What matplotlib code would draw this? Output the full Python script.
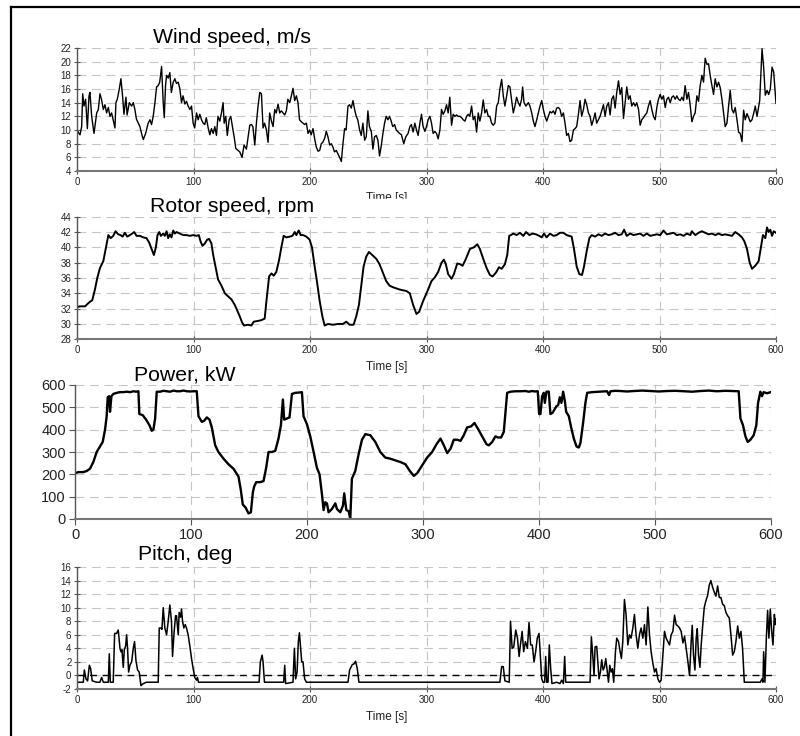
import matplotlib
matplotlib.use("Agg")
import matplotlib.pyplot as plt
from matplotlib.lines import Line2D
from matplotlib.patches import Rectangle

plt.rcParams['font.family'] = ['Liberation Sans', 'DejaVu Sans']
plt.rcParams['axes.unicode_minus'] = False

# ── Data ──────────────────────────────────────────────────────────────────────
wind_t = [0, 1.3, 2.6, 4.0, 4.9, 6.0, 7.4, 8.9, 10.3, 11.1, 12.6, 14.6, 16.9, 18.3, 19.7, 21.0,
          22.6, 24.0, 25.4, 26.9, 28.3, 29.7, 31.0, 32.6, 33.4, 34.6, 36.3, 37.7, 39.1, 40.3,
          42.0, 43.0, 44.9, 46.9, 48.3, 49.7, 51.0, 52.6, 54.0, 55.7, 56.9, 58.9, 61.1, 62.6,
          64.0, 65.4, 66.9, 68.3, 69.7, 71.0, 72.6, 74.0, 74.9, 76.0, 76.9, 78.3, 79.7, 81.0,
          82.6, 84.0, 85.4, 86.9, 88.3, 89.7, 91.0, 92.6, 94.0, 95.4, 96.9, 98.3, 99.7, 101.0,
          102.6, 104.0, 105.4, 106.9, 108.3, 109.7, 111.0, 112.6, 114.0, 115.4, 116.9, 118.3,
          119.7, 121.0, 122.6, 124.0, 125.4, 126.3, 127.7, 129.0, 130.6, 132.0, 133.4, 134.9,
          136.3, 138.3, 139.7, 141.7, 143.4, 145.4, 146.9, 148.3, 149.7, 151.0, 152.6, 154.0,
          155.4, 156.9, 158.3, 159.7, 161.0, 162.6, 164.0, 165.4, 166.9, 168.3, 169.7, 171.0,
          172.6, 174.0, 175.4, 176.9, 178.3, 179.7, 181.0, 182.6, 184.0, 185.4, 186.9, 188.3,
          189.7, 191.0, 192.6, 194.0, 195.4, 196.9, 198.3, 199.7, 201.0, 202.6, 204.0, 205.4,
          206.9, 208.3, 209.7, 211.0, 212.6, 214.0, 215.4, 216.9, 218.3, 219.7, 221.0, 222.6,
          224.0, 225.4, 226.9, 228.3, 229.7, 231.0, 232.6, 234.0, 235.4, 236.9, 238.3, 239.7,
          241.0, 242.6, 244.0, 245.4, 246.9, 248.3, 249.7, 251.0, 252.6, 254.0, 255.4, 256.9,
          258.3, 259.7, 261.0, 262.6, 264.0, 265.4, 266.9, 268.3, 269.7, 271.0, 272.6, 274.0,
          276.9, 278.5, 280.5, 282.2, 284.2, 285.7, 287.0, 288.5, 290.0, 291.4, 292.8, 294.3,
          295.7, 297.1, 298.6, 300.0, 301.4, 302.9, 304.3, 305.7, 307.2, 308.6, 310.0, 311.5,
          312.9, 314.3, 315.8, 317.2, 318.6, 320.0, 321.5, 322.9, 324.4, 325.8, 327.2, 328.7,
          330.1, 331.5, 333.0, 334.4, 335.8, 337.2, 338.7, 340.1, 341.5, 343.0, 344.4, 345.8,
          347.3, 348.7, 350.1, 351.6, 353.0, 354.4, 355.9, 357.3, 358.7, 360.2, 361.6, 363.0,
          364.5, 365.9, 367.3, 368.8, 370.2, 371.6, 373.0, 374.5, 375.9, 377.3, 378.8, 380.2,
          381.6, 382.5, 383.7, 385.4, 387.4, 388.8, 390.3, 391.7, 393.1, 394.6, 396.0, 397.4,
          398.9, 400.3, 401.7, 403.2, 404.6, 406.0, 407.4, 408.9, 410.3, 411.7, 413.2, 414.6,
          416.0, 417.5, 418.9, 420.3, 421.8, 423.2, 424.6, 426.1, 427.5, 428.9, 430.4, 431.8,
          433.2, 434.7, 436.1, 437.5, 439.0, 440.4, 441.8, 443.3, 444.7, 446.1, 447.6, 449.0,
          450.4, 451.9, 453.3, 454.7, 456.2, 457.6, 459.0, 460.5, 461.9, 463.3, 464.8, 466.2,
          467.6, 469.1, 470.5, 471.9, 473.4, 474.8, 476.2, 477.7, 479.1, 480.5, 482.0, 483.4,
          484.8, 486.2, 487.7, 489.1, 490.5, 492.0, 493.4, 494.8, 496.3, 497.7, 499.1, 500.6,
          502.0, 503.4, 504.9, 506.3, 507.7, 509.2, 510.6, 512.0, 513.5, 514.9, 516.3, 517.8,
          519.2, 520.6, 522.0, 523.5, 524.9, 526.3, 527.8, 529.2, 530.6, 532.1, 533.5, 534.9,
          536.4, 537.8, 539.2, 540.7, 542.1, 543.5, 545.0, 546.4, 547.8, 549.3, 550.7, 552.1,
          553.6, 555.0, 556.4, 557.9, 559.3, 560.7, 562.2, 563.6, 565.0, 566.5, 567.9, 569.3,
          570.8, 572.2, 573.6, 575.1, 576.5, 577.9, 579.4, 580.8, 582.2, 583.7, 586.0, 588.0,
          589.4, 590.8, 592.3, 593.7, 595.1, 596.6, 598.0, 600.0]
wind = [10.0, 9.6, 9.3, 10.5, 15.3, 13.5, 14.5, 10.2, 15.0, 15.5, 12.0, 9.5, 12.5, 13.0, 15.3, 14.5,
        13.0, 13.7, 12.5, 13.3, 12.0, 12.5, 11.5, 10.3, 14.0, 14.5, 16.0, 17.5, 15.0, 12.3,
        14.8, 12.2, 14.0, 13.5, 14.0, 13.0, 11.6, 11.0, 10.5, 9.3, 8.6, 9.5, 11.0, 11.5,
        10.8, 12.0, 14.0, 16.3, 16.5, 17.0, 19.3, 14.0, 11.8, 16.5, 18.0, 17.6, 18.4, 15.5,
        17.0, 17.5, 16.8, 17.0, 16.0, 14.0, 15.0, 13.8, 14.2, 13.5, 13.0, 13.5, 11.0, 10.3,
        12.5, 11.5, 12.3, 11.5, 11.0, 10.8, 11.8, 10.3, 9.3, 10.2, 9.5, 10.5,
        9.2, 12.0, 11.3, 12.5, 14.0, 11.0, 12.0, 9.2, 11.5, 12.0, 10.5, 9.0,
        7.3, 7.0, 6.8, 6.0, 7.8, 7.2, 9.0, 10.7, 10.8, 10.5, 7.8, 11.0,
        13.5, 15.5, 15.3, 10.3, 11.0, 10.0, 8.2, 12.5, 11.3, 10.5, 13.0, 12.5,
        13.8, 12.5, 12.8, 12.5, 12.2, 12.8, 14.5, 14.0, 15.0, 16.1, 14.3, 15.0,
        14.0, 11.5, 11.2, 11.0, 10.8, 11.0, 9.5, 10.0, 9.3, 10.2, 8.7, 7.5,
        6.9, 7.0, 8.0, 8.2, 8.8, 9.8, 9.0, 7.8, 8.0, 7.5, 6.8, 7.0,
        6.5, 6.0, 5.4, 8.0, 10.2, 10.0, 13.5, 13.7, 13.2, 14.3, 13.0, 12.0,
        11.5, 10.0, 9.2, 11.0, 8.5, 9.0, 12.8, 10.5, 9.8, 7.2, 9.0, 9.2,
        8.5, 6.2, 7.5, 9.5, 11.0, 12.0, 11.5, 12.0, 11.3, 10.5, 10.8, 10.0,
        9.5, 9.3, 8.0, 9.0, 9.5, 10.5, 10.8, 9.7, 11.0, 10.0, 9.2, 11.0,
        12.3, 10.5, 9.8, 10.5, 11.5, 12.0, 11.0, 9.5, 9.8, 9.5, 8.7, 10.0,
        13.0, 12.3, 12.8, 13.7, 12.5, 14.8, 10.7, 12.3, 12.0, 12.2, 12.0, 12.0,
        11.8, 11.5, 11.3, 12.0, 12.3, 12.0, 13.5, 11.5, 12.0, 9.7, 12.5, 11.3,
        12.5, 14.4, 12.5, 13.0, 12.0, 12.0, 11.0, 10.7, 11.0, 13.5, 14.0, 16.0,
        17.4, 15.0, 13.5, 15.0, 16.5, 16.3, 14.5, 12.5, 13.5, 14.8, 14.0, 13.5,
        14.5, 16.3, 14.0, 13.5, 14.0, 13.5, 12.5, 11.3, 10.5, 11.5, 12.5, 13.5,
        14.3, 13.0, 12.0, 11.3, 12.0, 12.7, 12.5, 12.8, 12.3, 13.2, 13.3, 13.0,
        12.0, 12.5, 11.0, 9.2, 9.5, 8.3, 8.5, 10.0, 10.2, 10.5, 12.3, 14.3,
        12.0, 13.0, 14.5, 13.7, 12.5, 12.0, 10.7, 11.5, 12.5, 11.0, 11.5, 12.0,
        12.8, 13.7, 12.0, 13.5, 14.0, 12.2, 14.5, 15.0, 13.2, 15.5, 17.2, 15.2,
        16.2, 11.7, 14.0, 16.3, 14.5, 15.0, 13.5, 14.0, 13.5, 14.0, 13.0, 10.7,
        11.5, 11.8, 12.2, 12.5, 13.5, 14.3, 13.0, 12.0, 11.5, 13.3, 14.5, 15.2,
        14.5, 15.0, 13.3, 14.5, 14.8, 14.0, 14.8, 15.0, 14.5, 15.0, 14.5, 14.3,
        14.8, 14.3, 16.5, 14.5, 15.5, 13.7, 11.2, 12.0, 12.5, 15.0, 14.2, 16.5,
        18.0, 17.0, 20.5, 19.6, 19.7, 18.0, 16.5, 15.2, 17.5, 16.3, 17.0, 16.2,
        14.5, 12.5, 10.5, 11.0, 13.5, 15.8, 13.0, 12.5, 13.3, 11.5, 9.7, 9.5,
        8.3, 12.9, 11.5, 12.4, 11.8, 11.2, 11.5, 12.4, 13.5, 12.0, 14.3, 21.9,
        19.2, 15.1, 15.8, 15.2, 16.0, 19.2, 18.5, 13.9]

rotor_t = [0, 2.6, 6.9, 8.9, 11.1, 13.1, 15.4, 17.4, 19.7, 22.6, 24.9, 26.9, 28.9, 31.1, 33.1,
           35.4, 37.4, 39.1, 41.1, 43.1, 45.4, 47.4, 49.1, 51.1, 54.0, 56.9, 59.7, 62.0, 64.0,
           66.0, 67.7, 69.1, 70.6, 72.0, 74.0, 75.4, 76.9, 78.3, 79.7, 81.1, 82.6, 84.0, 85.4,
           88.3, 91.1, 94.0, 96.9, 99.7, 102.6, 104.6, 106.0, 107.7, 109.7, 111.7, 113.4,
           115.4, 116.9, 118.9, 121.1, 124.0, 126.9, 129.7, 132.6, 135.4, 137.4, 139.7, 141.7,
           143.4, 146.9, 149.7, 151.7, 155.4, 158.3, 161.1, 162.6, 164.9, 166.9, 168.9, 171.1,
           173.4, 175.4, 177.4, 179.7, 182.6, 184.9, 186.9, 188.3, 190.3, 192.0, 194.0, 196.9,
           199.7, 201.7, 204.0, 206.0, 208.3, 210.6, 212.6, 215.4, 219.7, 224.0, 228.3, 231.1,
           234.0, 237.4, 239.7, 242.0, 244.0, 246.0, 248.3, 250.6, 253.4, 256.9, 259.7, 262.6,
           265.4, 268.3, 271.1, 276.9, 282.8, 285.7, 288.5, 291.4, 293.7, 297.1, 301.4, 304.3,
           307.2, 310.0, 312.9, 314.9, 316.6, 318.6, 321.5, 323.5, 326.4, 328.7, 331.0, 333.8,
           337.3, 340.7, 343.6, 345.8, 348.7, 351.6, 354.4, 356.7, 359.6, 362.2, 364.5, 367.3,
           369.3, 371.0, 372.5, 374.5, 377.4, 380.2, 383.1, 385.4, 388.3, 391.1, 394.0, 396.8,
           398.8, 400.9, 403.1, 406.0, 408.9, 411.7, 414.6, 417.5, 420.3, 424.6, 426.6, 428.9,
           431.2, 433.5, 435.2, 437.5, 439.8, 441.8, 444.7, 447.6, 450.4, 453.3, 456.2, 459.0,
           461.9, 464.8, 467.6, 469.6, 471.9, 474.8, 477.7, 480.5, 483.4, 486.2, 489.1, 492.0,
           494.8, 497.7, 500.6, 503.4, 506.3, 509.2, 512.0, 514.9, 517.8, 520.6, 523.5, 526.4,
           527.8, 530.7, 533.5, 536.4, 539.3, 542.1, 545.0, 547.9, 550.7, 553.6, 556.4, 559.3,
           562.2, 565.0, 567.9, 570.8, 572.8, 575.1, 577.4, 579.4, 582.2, 585.1, 587.1, 588.8,
           590.8, 592.3, 593.7, 595.1, 596.6, 598.0, 600.0]
rotor = [32.2, 32.3, 32.3, 32.6, 32.9, 33.1, 34.5, 36.0, 37.3, 38.2, 40.0, 41.6, 41.2, 41.5, 42.1,
         41.7, 41.6, 41.4, 41.9, 41.4, 41.6, 41.8, 42.0, 41.5, 41.5, 41.3, 41.2, 40.6, 39.8,
         39.0, 40.0, 41.6, 42.0, 41.5, 41.8, 41.5, 42.1, 41.2, 41.7, 41.3, 42.2, 41.8, 42.0,
         41.8, 41.6, 41.6, 41.5, 41.6, 41.5, 41.6, 40.8, 40.2, 40.5, 41.0, 41.1,
         40.5, 39.0, 37.5, 35.8, 35.0, 34.0, 33.6, 33.2, 32.5, 31.8, 31.0, 30.2,
         29.8, 29.9, 29.8, 30.3, 30.4, 30.5, 30.7, 33.0, 36.2, 36.6, 36.3, 36.8,
         38.3, 40.0, 41.5, 41.3, 41.4, 41.5, 42.0, 41.6, 42.2, 41.6, 41.6, 41.4,
         41.0, 40.0, 37.5, 35.5, 33.0, 31.0, 29.8, 30.0, 29.9, 30.0, 30.0, 30.3,
         29.9, 29.9, 31.0, 32.5, 35.0, 37.5, 38.8, 39.4, 39.0, 38.5, 37.8, 36.7,
         35.6, 35.0, 34.8, 34.5, 34.3, 34.0, 32.5, 31.3, 31.6, 33.0, 34.5, 35.6,
         36.1, 36.8, 38.0, 38.4, 37.8, 36.5, 35.9, 36.5, 37.9, 37.8, 37.6, 38.5,
         39.8, 40.0, 40.4, 39.8, 38.5, 37.3, 36.4, 36.2, 36.7, 37.4, 37.2, 37.8,
         39.0, 41.5, 41.6, 41.8, 41.6, 41.9, 41.5, 42.0, 41.6, 41.8, 41.7, 41.5,
         41.3, 41.8, 41.3, 41.8, 41.5, 41.6, 41.9, 41.9, 41.6, 41.4, 39.8, 37.5,
         36.5, 36.4, 37.5, 39.5, 41.2, 41.6, 41.4, 41.7, 41.5, 41.8, 41.6, 41.7,
         41.9, 41.6, 41.7, 42.3, 41.5, 41.8, 41.6, 41.7, 41.8, 41.5, 41.8, 41.5,
         41.6, 41.7, 41.6, 42.2, 41.7, 41.8, 41.9, 41.6, 41.7, 41.5, 41.8, 41.6,
         42.1, 41.6, 41.9, 42.1, 41.9, 41.7, 41.8, 41.6, 41.8, 41.6, 41.7, 41.6,
         41.5, 42.0, 41.7, 41.3, 40.8, 39.8, 38.0, 37.2, 37.6, 38.2, 40.0, 41.6,
         41.2, 42.6, 42.0, 42.3, 41.5, 42.1, 41.9]

power_t = [0, 2.9, 7.2, 10.1, 12.9, 15.8, 18.7, 21.6, 23.9, 25.9, 27.3, 28.2, 29.4, 30.2, 31.4,
           33.1, 36.0, 38.8, 41.7, 44.6, 47.5, 50.4, 52.6, 54.7, 55.5, 58.4, 61.3, 64.2, 66.2,
           67.6, 69.1, 70.5, 73.4, 76.3, 79.1, 82.0, 84.9, 87.8, 90.6, 93.5, 96.4, 99.3, 102.2,
           105.0, 106.5, 109.4, 111.4, 113.7, 116.0, 118.0, 120.9, 123.7, 128.1, 132.4, 136.7,
           141.0, 143.0, 144.7, 147.3, 149.6, 151.7, 153.4, 154.5, 156.3, 159.7, 162.6, 164.9,
           166.9, 169.8, 172.7, 175.5, 177.6, 179.3, 180.4, 182.7, 185.0, 187.1, 190.0, 192.8,
           195.7, 197.1, 200.0, 202.9, 205.8, 208.6, 210.9, 213.0, 214.4, 215.8, 217.3, 218.7,
           221.6, 224.5, 225.9, 228.8, 231.1, 232.2, 234.0, 236.0, 237.4, 238.8, 241.7, 244.6,
           247.5, 250.4, 254.7, 259.0, 263.3, 267.6, 271.9, 277.7, 280.7, 285.0, 288.8, 292.2,
           295.1, 299.4, 303.7, 308.0, 311.8, 315.2, 318.1, 321.0, 323.9, 326.7, 329.6, 332.5,
           335.3, 338.2, 341.7, 344.5, 347.4, 351.1, 354.9, 356.9, 359.8, 362.6, 364.7, 367.5,
           369.8, 371.3, 372.7, 375.6, 379.9, 384.2, 388.5, 391.4, 394.3, 396.7, 399.1, 400.3,
           401.4, 402.9, 404.3, 405.2, 406.6, 408.6, 410.0, 411.8, 413.5, 415.2, 416.7, 418.1,
           419.5, 421.0, 422.4, 423.6, 425.9, 427.9, 430.2, 432.5, 434.5, 435.9, 438.2, 440.2,
           441.7, 446.0, 451.7, 455.3, 458.9, 460.6, 461.8, 466.1, 470.4, 476.2, 481.9, 489.1,
           496.3, 503.5, 510.6, 517.8, 525.0, 532.2, 539.4, 546.6, 553.7, 560.9, 568.1, 572.4,
           573.9, 576.1, 578.2, 580.2, 582.5, 585.3, 587.6, 589.1, 591.1, 592.5, 593.9, 596.8,
           600.0]
power = [205, 210, 210, 215, 225, 255, 300, 325, 345, 400, 460, 545, 550, 480, 550,
         560, 565, 568, 568, 570, 568, 572, 570, 572, 470, 465, 445, 420, 395,
         400, 450, 570, 570, 574, 572, 570, 575, 572, 572, 575, 572, 571, 572,
         572, 460, 435, 440, 455, 445, 410, 330, 300, 270, 245, 225,
         190, 130, 65, 50, 25, 30, 120, 145, 165, 165, 170, 230,
         300, 300, 305, 360, 420, 535, 445, 450, 455, 560, 565, 566,
         568, 460, 425, 370, 300, 230, 200, 110, 40, 75, 70, 30,
         45, 70, 45, 30, 60, 115, 40, 35, 0, 180, 215, 290,
         355, 380, 375, 345, 300, 275, 270, 260, 255, 245, 215, 193,
         205, 240, 275, 300, 335, 360, 330, 295, 315, 355, 355, 350,
         375, 410, 415, 430, 405, 370, 335, 330, 345, 370, 365, 365,
         390, 480, 565, 570, 572, 572, 573, 570, 573, 571, 572, 470,
         470, 550, 565, 520, 570, 570, 470, 475, 490, 505, 510, 545,
         520, 570, 530, 480, 460, 410, 360, 325, 320, 340, 430, 520,
         565, 568, 570, 571, 572, 555, 572, 574, 573, 571, 573, 575,
         573, 571, 573, 574, 572, 570, 573, 575, 572, 574, 573, 572,
         450, 420, 370, 345, 355, 375, 420, 520, 570, 550, 568, 563,
         568]

pitch_t = [0, 5.4, 6.3, 7.7, 9.1, 10.6, 11.7, 13.1, 16.9, 19.7, 21.1, 22.6, 26.9, 27.7, 28.6,
           31.1, 32.3, 34.0, 35.4, 36.9, 37.7, 38.6, 39.7, 40.6, 41.7, 42.6, 43.4, 44.3, 45.4,
           46.9, 48.3, 49.4, 50.6, 52.0, 53.4, 54.9, 56.9, 59.7, 69.7, 70.6, 72.0, 72.9, 74.0,
           75.4, 76.9, 78.3, 79.7, 81.1, 82.0, 83.4, 84.6, 85.4, 86.9, 87.7, 88.9, 89.7, 90.6,
           91.7, 92.9, 94.0, 95.4, 96.9, 98.3, 99.7, 101.1, 102.6, 103.4, 104.3, 156.3, 157.4,
           158.9, 159.7, 160.9, 177.4, 178.3, 179.1, 185.4, 186.6, 187.7, 188.9, 190.0, 190.9,
           192.0, 192.9, 194.0, 195.4, 196.9, 232.6, 234.0, 236.3, 237.7, 239.1, 240.6, 242.0,
           363.0, 364.5, 365.9, 367.3, 371.0, 372.1, 373.5, 374.9, 376.6, 378.1, 379.5, 380.6,
           382.1, 383.4, 384.9, 386.6, 388.0, 389.4, 390.8, 392.3, 393.7, 395.1, 396.6, 397.7,
           398.9, 400.0, 401.4, 402.3, 403.2, 404.3, 405.4, 406.6, 407.7, 411.7, 414.6, 416.0,
           417.5, 418.6, 419.5, 440.4, 441.5, 442.7, 443.8, 444.7, 446.1, 447.3, 448.1, 449.3,
           450.4, 451.6, 452.7, 453.9, 455.0, 456.2, 457.3, 458.5, 459.6, 460.7, 462.2, 463.3,
           464.8, 466.2, 467.3, 468.5, 469.9, 471.3, 472.8, 474.2, 475.6, 477.1, 478.5, 479.9,
           481.4, 482.8, 484.2, 485.7, 487.1, 488.5, 490.0, 491.4, 492.8, 494.3, 495.7, 497.1,
           498.6, 500.0, 501.4, 502.9, 504.3, 505.7, 507.2, 508.6, 510.0, 511.5, 512.9, 514.3,
           515.8, 517.2, 518.6, 520.1, 521.5, 522.9, 524.4, 525.8, 527.2, 528.1, 529.2, 530.4,
           531.5, 532.4, 533.5, 534.7, 535.8, 537.0, 538.4, 539.8, 541.3, 542.7, 544.1, 545.6,
           547.0, 548.4, 549.9, 551.3, 552.7, 554.2, 555.6, 557.0, 558.5, 559.9, 561.3, 562.8,
           564.2, 565.6, 567.1, 568.5, 569.9, 571.3, 572.8, 586.5, 588.0, 588.8, 589.4, 590.5,
           591.7, 592.8, 593.9, 595.1, 596.3, 597.4, 598.6, 599.4, 600.0]
pitch = [-1, -1, 0.8, -0.5, -0.8, 1.5, 1.0, -0.8, -1, -1, -0.3, -1, -1, 3.2, -1,
         -1, 6.2, 6.2, 6.7, 4.0, 3.5, 3.8, 1.2, 3.8, 4.3, 6.0, 4.0, 0.5, 1.5,
         2.0, 4.0, 5.0, 2.2, 0.8, 0.5, -1.5, -1.2, -1, -1, 7.0, 7.0, 6.8, 10.0,
         7.0, 6.0, 8.0, 10.4, 8.0, 2.8, 6.5, 8.8, 8.8, 6.0, 9.3, 8.6, 9.8, 8.0,
         7.0, 7.5, 7.0, 6.0, 4.3, 2.5, 1.0, -0.3, -0.7, -0.3, -1, -1, 2.0,
         3.0, 2.0, -1, -1, 1.5, -1.2, -1, 4.0, -0.5, 0.5, 5.0, 6.3,
         4.0, 2.0, 2.0, -0.5, -1, -1, 0.8, 1.6, 1.7, 2.1, 1.0, -1,
         -1, 1.3, 1.3, -0.8, -1, 8.0, 4.0, 4.2, 6.7, 5.5, 2.8, 4.5,
         6.5, 3.5, 5.0, 4.0, 7.8, 4.5, 4.5, 2.0, 3.5, 5.5, 6.2, 3.0,
         -0.5, -1, -1, 2.8, -1, -1, 4.5, 1.0, -1.2, -1, -1.2, -0.7,
         -1.2, 2.8, -1, -1, 5.7, 3.0, 0, 4.2, 4.3, 1.5, -0.5, 0.5,
         2.3, 0.8, 1.2, 2.5, 0.8, -1, 1.5, 0.5, 1.0, -1, 3.5, 5.5,
         5.0, 3.5, 2.5, 5.0, 11.2, 9.0, 4.5, 6.0, 5.5, 7.0, 9.0, 6.0,
         4.0, 6.0, 7.0, 5.5, 7.5, 4.5, 10.1, 6.0, 3.5, 1.8, 0.5, 1.0,
         -0.5, -1, -0.7, 3.0, 6.5, 5.5, 5.0, 4.5, 6.0, 6.5, 8.9, 7.5,
         7.3, 7.0, 6.5, 4.8, 5.8, 4.0, 2.0, 0, 5.0, 7.4, 3.0, 0.8,
         5.5, 6.9, 3.0, 1.2, 4.5, 7.2, 10.0, 11.0, 11.8, 13.3, 14.0, 13.0,
         12.3, 11.7, 13.2, 11.5, 11.5, 10.5, 10.3, 9.3, 8.8, 8.5, 6.0, 3.0,
         3.5, 5.0, 7.3, 5.5, 6.5, 4.0, -1, -1, -0.5, -1, 3.5, -1,
         5.5, 9.6, 5.5, 9.8, 6.5, 4.5, 9.0, 7.5, 8.3]

x_ticks = [0, 100, 200, 300, 400, 500, 600]
wind_yticks = list(range(4, 23, 2))
rotor_yticks = list(range(28, 45, 2))
power_yticks = list(range(0, 601, 100))
pitch_yticks = list(range(-2, 17, 2))

# ── Canvas (pixel helpers, figure is 800 x 736) ───────────────────────────────
W, H = 800, 736
fig = plt.figure(figsize=(8, 7.36), dpi=100)
fig.patch.set_facecolor("white")

def rect(x0, y0, x1, y1):
    return [x0 / W, 1 - y1 / H, (x1 - x0) / W, (y1 - y0) / H]

GRID = dict(color="#c6c6c6", linestyle=(0, (8, 5)), linewidth=0.8)

def style(ax, ylim, yticks, fs, lab_pad):
    ax.set_xlim(0, 600)
    ax.set_ylim(*ylim)
    ax.set_xticks(x_ticks)
    ax.set_yticks(yticks)
    ax.set_axisbelow(True)
    ax.grid(True, **GRID)
    for s in ("top", "right"):
        ax.spines[s].set_visible(False)
    ax.spines["left"].set_color("#555555")
    ax.spines["left"].set_linewidth(1.0)
    ax.spines["bottom"].set_color("#777777")
    ax.spines["bottom"].set_linewidth(1.5)
    ax.tick_params(labelsize=fs, direction="inout", length=5, width=0.8,
                   color="#555555", labelcolor="#222222", pad=lab_pad)

def title(x, y, s):
    fig.text(x / W, 1 - y / H, s, fontsize=15.3, ha="left", va="baseline", zorder=6)

def time_label(y):
    fig.text(366 / W, 1 - y / H, "Time [s]", fontsize=8.5, ha="left", va="baseline",
             color="#222222")

# Panel 1 — wind speed
ax1 = fig.add_axes(rect(77, 48, 776, 171))
ax1.plot(wind_t, wind, color="black", lw=1.0)
style(ax1, (4, 22), wind_yticks, 7, 1.5)
title(153, 42.7, "Wind speed, m/s")
time_label(201.2)
# the next panel cuts this label off at the bottom
fig.add_artist(Rectangle((355 / W, 1 - 207 / H), 70 / W, 7.7 / H,
                         transform=fig.transFigure, color="white", zorder=5))

# Panel 2 — rotor speed
ax2 = fig.add_axes(rect(77, 216.7, 776, 339.3))
ax2.plot(rotor_t, rotor, color="black", lw=1.4)
style(ax2, (28, 44), rotor_yticks, 7, 1.5)
title(150.5, 211.7, "Rotor speed, rpm")
time_label(370.2)

# Panel 3 — power
ax3 = fig.add_axes(rect(75, 385, 770.7, 519))
ax3.plot(power_t, power, color="black", lw=1.7)
style(ax3, (0, 600), power_yticks, 10.5, 2.5)
ax3.tick_params(direction="out", length=4)
title(133.5, 380.7, "Power, kW")

# Panel 4 — pitch
ax4 = fig.add_axes(rect(77, 567, 776, 689))
ax4.axhline(0, color="black", lw=1.0, linestyle=(0, (5, 4)), zorder=1.5)
ax4.plot(pitch_t, pitch, color="black", lw=1.1)
style(ax4, (-2, 16), pitch_yticks, 7, 1.5)
title(138.5, 560, "Pitch, deg")
time_label(720.2)

# Outer frame (top and left only)
fig.add_artist(Line2D([10.5 / W, 1], [1 - 7 / H] * 2, color="black", lw=1.6))
fig.add_artist(Line2D([10.5 / W] * 2, [0, 1 - 7 / H], color="black", lw=1.6))

fig.savefig("out.png", dpi=100, facecolor="white")
